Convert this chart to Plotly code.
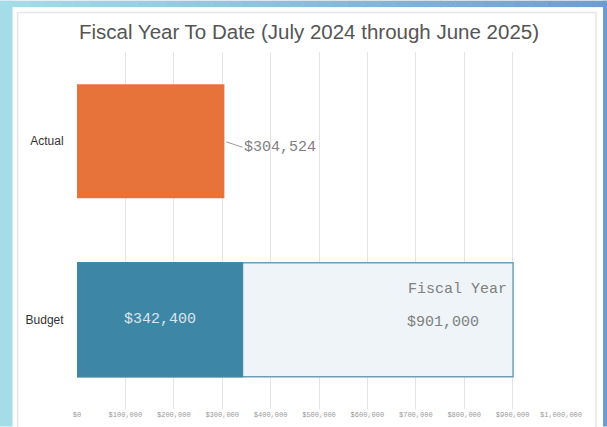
import plotly.graph_objects as go

# ---- data ----
categories = ["Actual", "Budget"]
actual_values = [304524]
budget_values = [342400]
fiscal_year_values = [901000]
tick_values = [0, 100000, 200000, 300000, 400000, 500000, 600000, 700000, 800000, 900000, 1000000]
tick_labels = ["$0", "$100,000", "$200,000", "$300,000", "$400,000", "$500,000",
               "$600,000", "$700,000", "$800,000", "$900,000", "$1,000,000"]
title_text = "Fiscal Year To Date (July 2024 through June 2025)"

W, H = 607, 427
L, R, T, B = 77.4, 46, 51.5, 17.5
PW, PH = W - L - R, H - T - B

def px(x):
    return (x - L) / PW

def py(y):
    return (H - B - y) / PH

MONO = "Liberation Mono, Courier New, monospace"
SANS = "Liberation Sans, Arial, sans-serif"

fig = go.Figure()
fig.add_trace(go.Bar(y=["Budget"], x=fiscal_year_values, orientation="h", width=0.64,
                     marker=dict(color="#eef4f7", line=dict(color="#6f9db8", width=1.5)),
                     hoverinfo="skip", showlegend=False))
fig.add_trace(go.Bar(y=["Budget"], x=budget_values, orientation="h", width=0.64,
                     marker=dict(color="#3e86a5", line=dict(color="#3e86a5", width=1)),
                     showlegend=False))
fig.add_trace(go.Bar(y=["Actual"], x=actual_values, orientation="h", width=0.64,
                     marker=dict(color="#e8733a", line=dict(width=0)),
                     showlegend=False))

annotations = [
    dict(x=actual_values[0], y="Actual", text="$%s" % format(actual_values[0], ","),
         showarrow=True, arrowhead=0, arrowwidth=1, arrowcolor="#999999",
         ax=18, ay=6, xanchor="left", standoff=2,
         font=dict(family=MONO, size=15, color="#808080")),
    dict(x=budget_values[0] / 2, y="Budget", text="$%s" % format(budget_values[0], ","),
         showarrow=False, font=dict(family=MONO, size=15, color="#d8e6ee")),
    dict(x=fiscal_year_values[0] - 8000, y="Budget", yshift=30, xanchor="right",
         text="Fiscal Year", showarrow=False,
         font=dict(family=MONO, size=15, color="#808080")),
    dict(x=fiscal_year_values[0] * 0.84, y="Budget", yshift=-3,
         text="$%s" % format(fiscal_year_values[0], ","), showarrow=False,
         font=dict(family=MONO, size=15, color="#808080")),
]

shapes = []
# inner faint frame
shapes.append(dict(type="rect", xref="paper", yref="paper",
                   x0=px(18), x1=px(596), y0=py(440), y1=py(12),
                   line=dict(color="#e6e6e6", width=1.5), fillcolor="rgba(0,0,0,0)", layer="below"))
# gradient top strip
n = 40
c0 = (164, 221, 232)
c1 = (111, 157, 208)
for i in range(n):
    t = i / (n - 1)
    c = tuple(int(round(c0[k] + (c1[k] - c0[k]) * t)) for k in range(3))
    shapes.append(dict(type="rect", xref="paper", yref="paper",
                       x0=px(W * i / n), x1=px(W * (i + 1) / n + 0.5),
                       y0=py(6.5), y1=py(0), fillcolor="rgb(%d,%d,%d)" % c,
                       line=dict(width=0), layer="above"))
# left strip
shapes.append(dict(type="rect", xref="paper", yref="paper", x0=px(0), x1=px(13),
                   y0=py(H), y1=py(0), fillcolor="rgb(164,221,232)", line=dict(width=0), layer="above"))
# right strip
shapes.append(dict(type="rect", xref="paper", yref="paper", x0=px(603), x1=px(W),
                   y0=py(H), y1=py(0), fillcolor="rgb(107,155,210)", line=dict(width=0), layer="above"))

fig.update_layout(
    width=W, height=H,
    margin=dict(l=L, r=R, t=T, b=B, autoexpand=False),
    paper_bgcolor="white", plot_bgcolor="white",
    barmode="overlay",
    title=dict(text=title_text, x=309 / W, xref="container", xanchor="center",
               y=1 - 32 / H, yref="container", yanchor="middle",
               font=dict(family=SANS, size=20.5, color="#555555")),
    xaxis=dict(range=[0, 1000000], tickvals=tick_values, ticktext=tick_labels,
               showgrid=True, gridcolor="#e4e4e4", gridwidth=1, zeroline=False,
               showline=False, ticks="", automargin=False,
               tickfont=dict(family=MONO, size=7, color="#999999")),
    yaxis=dict(type="category", categoryarray=categories, categoryorder="array",
               range=[1.5, -0.5], showgrid=False, zeroline=False, showline=False,
               ticks="outside", ticklen=10, tickcolor="rgba(0,0,0,0)", automargin=False,
               tickfont=dict(family=SANS, size=12, color="#333333")),
    annotations=annotations,
    shapes=shapes,
)

fig.write_html("out.html", config={"displayModeBar": False},
               post_script="document.body.style.margin='0px';document.body.style.overflow='hidden';")
